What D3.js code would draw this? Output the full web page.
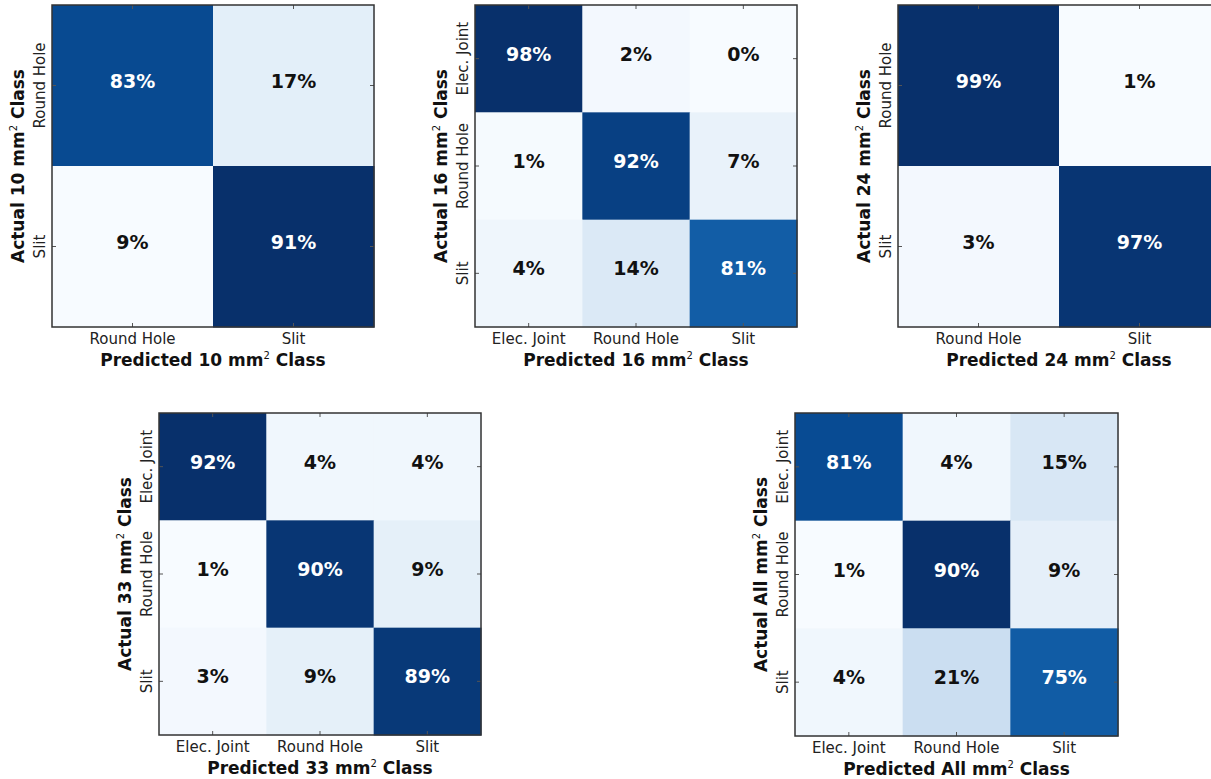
<!DOCTYPE html>
<html>
<head>
<meta charset="utf-8">
<script src="https://cdn.jsdelivr.net/npm/d3@7"></script>
<style>
  html, body { margin: 0; padding: 0; background: #fff; }
  svg { display: block; font-family: "DejaVu Sans", sans-serif; }
</style>
</head>
<body>
<svg id="chart" width="1211" height="779"></svg>
<script>
// ---- data ----
const classes2 = ["Round Hole", "Slit"];
const classes3 = ["Elec. Joint", "Round Hole", "Slit"];
const sizeNames = ["10", "16", "24", "33", "All"];
const m10 = [[83, 17], [9, 91]];
const m16 = [[98, 2, 0], [1, 92, 7], [4, 14, 81]];
const m24 = [[99, 1], [3, 97]];
const m33 = [[92, 4, 4], [1, 90, 9], [3, 9, 89]];
const mAll = [[81, 4, 15], [1, 90, 9], [4, 21, 75]];
const bluesStops = ["#f7fbff", "#deebf7", "#c6dbef", "#9ecae1", "#6baed6", "#4292c6", "#2171b5", "#08519c", "#08306b"];

// ---- layout ----
const panels = [
  { name: sizeNames[0], m: m10, cls: classes2, x: 52, y: 5, s: 322 },
  { name: sizeNames[1], m: m16, cls: classes3, x: 475, y: 5, s: 322 },
  { name: sizeNames[2], m: m24, cls: classes2, x: 898, y: 5, s: 322 },
  { name: sizeNames[3], m: m33, cls: classes3, x: 159, y: 413, s: 322 },
  { name: sizeNames[4], m: mAll, cls: classes3, x: 795, y: 413, s: 323 }
];

const svg = d3.select("#chart");
const blues = d3.scaleLinear()
  .domain(d3.range(bluesStops.length).map(i => i / (bluesStops.length - 1)))
  .range(bluesStops)
  .interpolate(d3.interpolateRgb);

panels.forEach(p => {
  const g = svg.append("g").attr("transform", `translate(${p.x},${p.y})`);
  const x = d3.scaleBand().domain(p.cls).range([0, p.s]);
  const y = d3.scaleBand().domain(p.cls).range([0, p.s]);
  const flat = p.m.flat();
  const vmin = d3.min(flat), vmax = d3.max(flat);
  const norm = d3.scaleLinear().domain([vmin, vmax]).range([0, 1]);

  const cells = [];
  p.m.forEach((row, i) => row.forEach((v, j) => cells.push({ r: p.cls[i], c: p.cls[j], v })));

  g.selectAll("rect.cell").data(cells).join("rect")
    .attr("class", "cell")
    .attr("x", d => x(d.c)).attr("y", d => y(d.r))
    .attr("width", x.bandwidth() + 0.5).attr("height", y.bandwidth() + 0.5)
    .attr("fill", d => blues(norm(d.v)));

  g.selectAll("text.val").data(cells).join("text")
    .attr("class", "val")
    .attr("x", d => x(d.c) + x.bandwidth() / 2)
    .attr("y", d => y(d.r) + y.bandwidth() / 2 - 5)
    .attr("text-anchor", "middle")
    .attr("dominant-baseline", "central")
    .attr("font-size", 19).attr("font-weight", "bold")
    .attr("fill", d => d.v > vmax / 2 ? "#ffffff" : "#111111")
    .text(d => d.v + "%");

  // axes
  const bottom = g.append("g").attr("transform", `translate(0,${p.s})`)
    .call(d3.axisBottom(x).tickSizeInner(-4).tickSizeOuter(0).tickPadding(6.3));
  const top = g.append("g")
    .call(d3.axisTop(x).tickSizeInner(-4).tickSizeOuter(0).tickFormat(""));
  const left = g.append("g")
    .call(d3.axisLeft(y).tickSizeInner(-4).tickSizeOuter(0));
  const right = g.append("g").attr("transform", `translate(${p.s},0)`)
    .call(d3.axisRight(y).tickSizeInner(-4).tickSizeOuter(0).tickFormat(""));

  [bottom, top, left, right].forEach(a => {
    a.select(".domain").remove();
    a.selectAll(".tick line").attr("stroke", "#555").attr("stroke-width", 1);
  });
  bottom.selectAll(".tick text")
    .attr("font-family", "DejaVu Sans").attr("font-size", 15).attr("fill", "#222");
  left.selectAll(".tick text")
    .attr("font-family", "DejaVu Sans").attr("font-size", 15).attr("fill", "#222")
    .attr("transform", "rotate(-90)")
    .attr("x", 0).attr("y", -7).attr("dy", 0)
    .attr("text-anchor", "middle");

  // frame
  g.append("rect").attr("x", 0).attr("y", 0).attr("width", p.s).attr("height", p.s)
    .attr("fill", "none").attr("stroke", "#333").attr("stroke-width", 1.5);

  // axis titles
  const xt = g.append("text")
    .attr("x", p.s / 2).attr("y", p.s + 38.5)
    .attr("text-anchor", "middle")
    .attr("font-size", 17).attr("font-weight", "bold").attr("fill", "#111");
  xt.append("tspan").text(`Predicted ${p.name} mm`);
  xt.append("tspan").attr("font-size", 10).attr("font-weight", "normal").attr("dy", -7).text("2");
  xt.append("tspan").attr("dy", 7).text(" Class");

  const yt = g.append("text")
    .attr("transform", `translate(-28,${p.s / 2}) rotate(-90)`)
    .attr("text-anchor", "middle")
    .attr("font-size", 17).attr("font-weight", "bold").attr("fill", "#111");
  yt.append("tspan").text(`Actual ${p.name} mm`);
  yt.append("tspan").attr("font-size", 10).attr("font-weight", "normal").attr("dy", -7).text("2");
  yt.append("tspan").attr("dy", 7).text(" Class");
});
</script>
</body>
</html>
